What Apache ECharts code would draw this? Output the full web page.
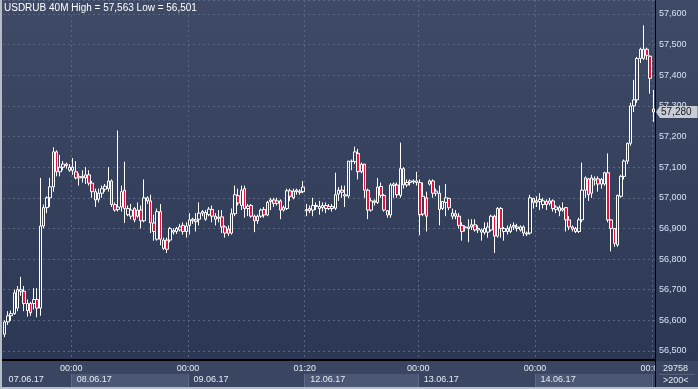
<!DOCTYPE html>
<html><head><meta charset="utf-8">
<script src="https://cdn.jsdelivr.net/npm/echarts@6/dist/echarts.min.js"></script>
<style>html,body{margin:0;padding:0;background:#2f3b56;}#c{width:698px;height:389px;}</style>
</head><body><div id="c"></div>
<script>
const opens = [
56.555,56.595,56.615,56.622,56.640,56.695,56.695,56.632,56.655,56.655,
56.668,56.640,56.908,56.968,57.000,57.036,57.150,57.085,57.100,57.110,
57.090,57.090,57.085,57.065,57.070,57.065,57.075,57.048,57.020,56.995,
57.015,57.028,57.030,57.055,56.978,56.962,56.970,57.025,56.945,56.940,
56.965,56.940,56.960,56.925,57.000,56.990,56.918,56.865,56.955,56.835,
56.862,56.862,56.888,56.890,56.895,56.910,56.890,56.910,56.930,56.922,
56.930,56.950,56.930,56.945,56.962,56.940,56.933,56.938,56.905,56.898,
56.885,56.948,57.007,56.975,57.030,56.965,56.975,56.940,56.925,56.940,
56.962,56.944,56.988,56.993,56.982,56.990,56.960,56.965,57.023,57.000,
57.020,57.022,57.020,56.962,56.965,56.960,56.972,56.965,56.968,56.975,
56.965,56.972,56.966,57.012,57.025,57.010,57.006,57.120,57.118,57.145,
57.085,57.110,57.025,56.960,56.990,56.985,57.037,57.008,56.958,56.944,
57.040,57.042,57.008,57.095,57.042,57.050,57.055,57.050,57.050,56.947,
57.000,57.045,57.055,57.015,57.015,56.965,56.985,56.998,56.940,56.948,
56.940,56.910,56.902,56.905,56.905,56.912,56.895,56.888,56.887,56.888,
56.895,56.940,56.875,56.965,56.890,56.900,56.890,56.905,56.905,56.895,
56.905,56.885,56.885,56.998,56.985,56.988,56.978,56.988,56.982,56.990,
56.962,56.968,56.960,56.968,56.928,56.905,56.900,56.890,56.928,57.025,
57.062,57.015,57.058,57.062,57.045,57.045,57.082,56.928,56.900,56.846,
57.005,57.070,57.120,57.178,57.300,57.320,57.455,57.455,57.485,57.462,
57.290];
const closes = [
56.595,56.615,56.622,56.690,56.700,56.700,56.655,56.655,56.625,56.668,
56.640,56.908,56.968,57.000,57.036,57.150,57.085,57.100,57.110,57.105,
57.100,57.100,57.065,57.070,57.065,57.075,57.048,57.020,56.993,57.015,
57.030,57.038,57.055,56.978,56.960,56.970,57.020,56.965,56.965,56.960,
56.928,56.960,56.925,57.000,56.990,56.918,56.890,56.955,56.865,56.862,
56.832,56.900,56.893,56.900,56.905,56.890,56.908,56.928,56.925,56.928,
56.950,56.955,56.952,56.963,56.940,56.930,56.937,56.905,56.885,56.884,
56.948,57.010,56.983,57.025,56.965,56.973,56.940,56.925,56.940,56.960,
56.944,56.985,56.993,56.982,56.990,56.960,56.968,57.023,57.005,57.022,
57.025,57.018,57.035,56.958,56.958,56.975,56.975,56.972,56.975,56.965,
56.972,56.965,57.010,57.025,57.018,57.006,57.120,57.118,57.150,57.085,
57.110,57.025,56.960,56.990,56.985,57.035,57.008,56.960,56.944,57.042,
57.045,57.010,57.095,57.042,57.050,57.055,57.052,57.055,56.945,57.005,
56.940,57.055,57.015,57.022,56.962,56.988,57.000,56.968,56.950,56.940,
56.910,56.890,56.905,56.900,56.912,56.895,56.900,56.895,56.900,56.905,
56.940,56.875,56.965,56.900,56.900,56.890,56.905,56.910,56.900,56.905,
56.885,56.882,57.000,56.985,56.990,56.995,56.990,56.978,56.990,56.965,
56.970,56.957,56.965,56.928,56.905,56.898,56.890,56.928,57.025,57.065,
57.010,57.065,57.062,57.045,57.060,57.082,56.928,56.900,56.851,57.008,
57.070,57.120,57.178,57.300,57.320,57.455,57.485,57.485,57.465,57.390,
57.280];
const lows = [
56.545,56.585,56.598,56.618,56.630,56.680,56.630,56.612,56.615,56.635,
56.610,56.615,56.900,56.950,56.970,57.020,57.070,57.070,57.090,57.095,
57.085,57.075,57.060,57.040,57.050,57.045,57.040,57.000,56.970,56.985,
57.000,57.020,57.020,56.970,56.955,56.955,56.955,56.918,56.940,56.930,
56.920,56.935,56.900,56.920,56.980,56.885,56.860,56.860,56.845,56.830,
56.820,56.855,56.880,56.882,56.890,56.880,56.870,56.880,56.915,56.890,
56.910,56.940,56.925,56.940,56.920,56.910,56.920,56.885,56.870,56.875,
56.880,56.940,56.975,56.960,56.935,56.940,56.935,56.888,56.915,56.935,
56.935,56.940,56.960,56.970,56.975,56.930,56.955,56.960,56.990,56.995,
57.010,57.010,57.015,56.940,56.950,56.940,56.960,56.945,56.955,56.950,
56.960,56.955,56.960,56.990,57.000,56.970,57.000,57.090,57.110,57.060,
57.080,57.000,56.930,56.955,56.975,56.980,57.000,56.955,56.935,56.935,
57.000,57.000,57.000,57.030,57.035,57.040,57.045,57.040,56.878,56.940,
56.890,57.040,57.000,57.005,56.910,56.960,56.940,56.960,56.930,56.930,
56.900,56.860,56.890,56.855,56.895,56.890,56.885,56.860,56.880,56.870,
56.890,56.820,56.870,56.870,56.860,56.880,56.885,56.895,56.890,56.890,
56.875,56.875,56.880,56.965,56.970,56.960,56.965,56.960,56.975,56.955,
56.950,56.940,56.955,56.890,56.895,56.890,56.885,56.885,56.920,57.000,
56.990,57.000,57.040,57.020,57.030,57.040,56.920,56.825,56.840,56.840,
57.000,57.060,57.110,57.170,57.280,57.310,57.440,57.450,57.450,57.340,
57.248];
const highs = [
56.600,56.630,56.632,56.700,56.712,56.742,56.712,56.668,56.660,56.705,
56.705,57.065,56.978,57.005,57.065,57.165,57.155,57.140,57.120,57.115,
57.110,57.130,57.120,57.080,57.090,57.100,57.090,57.055,57.030,57.030,
57.040,57.045,57.100,57.060,56.985,57.220,57.040,57.118,56.975,56.980,
56.970,56.985,56.975,57.060,57.005,57.010,56.945,56.965,56.980,56.870,
56.870,56.905,56.900,56.905,56.915,56.920,56.920,56.950,56.935,56.950,
56.985,56.960,56.960,56.970,56.975,56.950,56.960,56.960,56.910,56.910,
56.965,57.040,57.030,57.040,57.040,56.980,56.980,56.945,56.945,56.965,
56.970,56.990,57.000,57.000,57.000,56.995,56.975,57.030,57.030,57.030,
57.030,57.028,57.055,56.980,56.975,57.000,56.985,56.990,56.985,56.985,
56.980,56.980,57.082,57.035,57.040,57.040,57.120,57.125,57.167,57.160,
57.115,57.110,57.030,57.000,56.995,57.065,57.050,57.012,56.960,57.048,
57.050,57.050,57.180,57.100,57.060,57.060,57.060,57.085,57.060,57.050,
57.020,57.060,57.060,57.030,57.040,56.990,57.045,57.000,56.965,56.960,
56.950,56.920,56.910,56.930,56.930,56.930,56.910,56.900,56.920,56.920,
56.945,56.945,56.970,56.970,56.905,56.910,56.915,56.920,56.915,56.910,
56.910,56.890,57.010,57.000,57.005,57.015,57.000,56.995,57.000,56.995,
56.975,56.975,56.985,56.970,56.940,56.910,56.905,56.935,57.115,57.070,
57.065,57.075,57.070,57.070,57.065,57.085,57.145,56.930,56.900,57.010,
57.075,57.125,57.180,57.310,57.385,57.460,57.490,57.563,57.490,57.465,
57.352];

const dayStarts = [21, 57, 93, 128, 164, 200];
const timeLabels = ['00:00', '00:00', '01:20', '00:00', '00:00', '00:00'];
const dateStarts = [0, 21, 57, 93, 128, 164];
const dateLabels = ['07.06.17', '08.06.17', '09.06.17', '12.06.17', '13.06.17', '14.06.17'];
const titleText = 'USDRUB 40M High = 57,563 Low = 56,501';
const bidPrice = 57.280;
const bidText = '57,280';
const cornerTop = '29758';
const cornerBottom = '>200<';
const yMin = 56.4, yStep = 0.1;
const yTop = 57.6457;   // value at the top edge of the plot

const categories = opens.map((_, i) => 'b' + i);
const ohlc = opens.map((o, i) => [o, closes[i], lows[i], highs[i]]);

const FONT = 'Liberation Sans';
const TAG = '#c9cdd3';
const chart = echarts.init(document.getElementById('c'), null, {renderer: 'canvas'});
const fmt = v => v.toFixed(3).replace('.', ',');
const onStep = v => Math.abs(v * 10 - Math.round(v * 10)) < 1e-6;

chart.setOption({
  animation: false,
  backgroundColor: 'transparent',
  title: {
    text: titleText, left: 4, top: 3, padding: 0,
    textStyle: {color: '#ffffff', fontSize: 10, fontWeight: 'normal', fontFamily: FONT}
  },
  grid: [
    {left: 3, right: 43, top: 0, bottom: 7.364},
    {left: 3, right: 43, top: 374, height: 13}
  ],
  xAxis: [
    {
      type: 'category', data: categories, gridIndex: 0, boundaryGap: true,
      axisLine: {show: false}, axisTick: {show: false}, axisLabel: {show: false},
      splitLine: {show: true, interval: i => dayStarts.includes(i),
        lineStyle: {color: '#5a6680', type: [2, 3], width: 1}}
    },
    {
      type: 'category', data: categories, gridIndex: 1, position: 'top', z: 20,
      axisLine: {show: false}, axisTick: {show: false},
      axisLabel: {
        show: true, interval: i => dayStarts.includes(i),
        formatter: (v, i) => timeLabels[dayStarts.indexOf(i)] || '',
        color: '#e6ebf4', fontSize: 9, fontFamily: FONT, margin: 1, padding: [0, 3, 0, 0]
      },
      splitLine: {show: true, interval: i => dayStarts.includes(i),
        lineStyle: {color: '#5e6a86', width: 1}},
      splitArea: {show: true, interval: i => i === 0 || dayStarts.includes(i),
        areaStyle: {color: ['#3a4661', '#4b5773']}}
    },
    {
      type: 'category', data: categories, gridIndex: 1, position: 'bottom', z: 21,
      axisLine: {show: false}, axisTick: {show: false},
      axisLabel: {
        show: true, interval: i => dateStarts.includes(i),
        formatter: (v, i) => dateLabels[dateStarts.indexOf(i)] || '',
        color: '#e6ebf4', fontSize: 9, fontFamily: FONT, margin: -12, align: 'left',
        padding: [0, 0, 0, 4]
      }
    }
  ],
  yAxis: [
    {
      type: 'value', gridIndex: 0, position: 'right', min: yMin, max: yTop, interval: yStep,
      axisLine: {show: false}, axisTick: {show: false},
      axisLabel: {
        color: '#d6e2f6', fontSize: 9, fontFamily: FONT, margin: 4,
        showMinLabel: false, showMaxLabel: false,
        formatter: v => (v < 56.45 || !onStep(v)) ? '' : fmt(v)
      },
      splitLine: {show: true, lineStyle: {color: '#5a6680', type: [2, 3], width: 1}}
    },
    {
      type: 'value', gridIndex: 1, show: false
    }
  ],
  series: [{
    type: 'candlestick', xAxisIndex: 0, yAxisIndex: 0,
    data: ohlc, barWidth: 3,
    itemStyle: {
      color: 'rgba(0,0,0,0)', color0: '#e8103c',
      borderColor: '#ffffff', borderColor0: '#ffffff', borderWidth: 1
    },
    markLine: {
      silent: true, symbol: ['none', 'none'],
      lineStyle: {color: 'rgba(0,0,0,0)', width: 0},
      data: [{yAxis: bidPrice}],
      label: {
        show: true, position: 'end', distance: 5, formatter: bidText,
        color: '#101826', fontSize: 10, fontFamily: FONT, lineHeight: 12,
        backgroundColor: TAG, padding: [0, 6, 0, 1]
      }
    }
  }],
  graphic: [
    {id: 'bg', type: 'rect', z: -10, silent: true, shape: {x: 0, y: 0, width: 698, height: 361},
      style: {fill: new echarts.graphic.LinearGradient(0, 0, 0, 1, [
        {offset: 0, color: '#3f4b66'}, {offset: 1, color: '#2c3853'}])}},
    {id: 'strip', type: 'rect', z: 10, silent: true, shape: {x: 0, y: 361, width: 655, height: 28},
      style: {fill: '#3a4661'}},
    {id: 'corner', type: 'rect', z: 100, silent: true, shape: {x: 655, y: 361, width: 43, height: 28},
      style: {fill: '#3a4661'}},
    {id: 'cornerSep', type: 'rect', z: 101, silent: true, shape: {x: 659, y: 374, width: 36, height: 1},
      style: {fill: '#56627c'}},
    {id: 'cornerTop', type: 'text', z: 102, silent: true, x: 663, y: 364,
      style: {text: cornerTop, fill: '#e6ebf4', fontSize: 9, fontFamily: FONT}},
    {id: 'cornerBottom', type: 'text', z: 102, silent: true, x: 663, y: 376,
      style: {text: cornerBottom, fill: '#e6ebf4', fontSize: 9, fontFamily: FONT}},
    {id: 'hline', type: 'rect', z: 103, silent: true, shape: {x: 0, y: 359, width: 655, height: 2},
      style: {fill: '#000000'}},
    {id: 'vline', type: 'rect', z: 103, silent: true, shape: {x: 655, y: 0, width: 1, height: 389},
      style: {fill: '#000000'}},
    {id: 'frameL', type: 'rect', z: 104, silent: true, shape: {x: 0, y: 0, width: 2, height: 389},
      style: {fill: '#b8bcc6'}},
    {id: 'frameB', type: 'rect', z: 104, silent: true, shape: {x: 0, y: 387, width: 698, height: 2},
      style: {fill: '#b8bcc6'}}
  ]
});

// little arrow on the left of the bid tag, placed through the y scale
const py = chart.convertToPixel({yAxisIndex: 0}, bidPrice);
chart.setOption({
  graphic: [
    {id: 'bidArrow', type: 'polygon', z: 105, silent: true,
      shape: {points: [[656, py], [660, py - 6], [660, py + 6]]},
      style: {fill: TAG}}
  ]
});
</script></body></html>
